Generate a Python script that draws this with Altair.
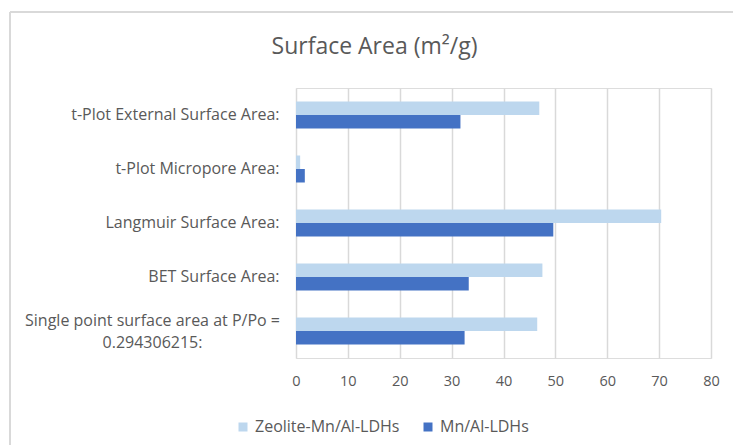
import altair as alt
import pandas as pd

# Surface area measurements (m²/g) for the two materials
categories = [
    "t-Plot External Surface Area:",
    "t-Plot Micropore Area:",
    "Langmuir Surface Area:",
    "BET Surface Area:",
    "Single point surface area at P/Po = 0.294306215:",
]
series = ["Zeolite-Mn/Al-LDHs", "Mn/Al-LDHs"]
zeolite_values = [46.9, 0.8, 70.4, 47.5, 46.5]
mnal_values = [31.7, 1.7, 49.6, 33.3, 32.5]
x_ticks = [0, 10, 20, 30, 40, 50, 60, 70, 80]
colors = ["#BDD7EE", "#4472C4"]

rows = []
for cat, z, m in zip(categories, zeolite_values, mnal_values):
    rows.append({"category": cat, "series": series[0], "value": z})
    rows.append({"category": cat, "series": series[1], "value": m})
df = pd.DataFrame(rows)

FONT = "Open Sans"
TEXT = "#595959"
GRID = "#D9D9D9"

LONG_LABEL = "indexof(datum.value, 'P/Po') >= 0"

bars = alt.Chart(df).mark_bar().encode(
    x=alt.X(
        "value:Q",
        scale=alt.Scale(domain=[0, 80], nice=False, zero=True),
        axis=alt.Axis(
            values=x_ticks,
            title=None,
            grid=True,
            gridColor=GRID,
            gridWidth=1.5,
            domain=False,
            ticks=False,
            labelFlush=False,
            labelPadding=16,
            labelFont=FONT,
            labelFontSize=14.5,
            labelColor=TEXT,
        ),
    ),
    y=alt.Y(
        "category:N",
        sort=categories,
        scale=alt.Scale(paddingInner=0.5, paddingOuter=0.25),
        axis=alt.Axis(
            title=None,
            domain=False,
            ticks=False,
            grid=False,
            labelExpr="split(replace(datum.label, '= ', '=|'), '|')",
            labelAlign={"condition": {"test": LONG_LABEL, "value": "center"}, "value": "right"},
            labelPadding={"condition": {"test": LONG_LABEL, "value": 144}, "value": 17},
            labelOffset={"condition": {"test": LONG_LABEL, "value": -10}, "value": 0},
            labelLimit=400,
            labelLineHeight=22,
            labelFont=FONT,
            labelFontSize=16,
            labelColor=TEXT,
        ),
    ),
    yOffset=alt.YOffset(
        "series:N", sort=series, scale=alt.Scale(paddingInner=0, paddingOuter=0)
    ),
    color=alt.Color(
        "series:N",
        sort=series,
        scale=alt.Scale(domain=series, range=colors),
        legend=alt.Legend(
            title=None,
            orient="none",
            legendX=-61,
            legendY=331,
            direction="horizontal",
            symbolType="square",
            symbolSize=81,
            symbolStrokeWidth=0,
            labelFont=FONT,
            labelFontSize=16,
            labelColor=TEXT,
            labelOffset=4,
            columnPadding=20,
        ),
    ),
)

# light grey outer chart frame (left and top edges)
frame_src = pd.DataFrame({"k": [0]})
frame_left = alt.Chart(frame_src).mark_rule(color=GRID, strokeWidth=2).encode(
    x=alt.value(-286), y=alt.value(-76), y2=alt.value(370)
)
frame_top = alt.Chart(frame_src).mark_rule(color=GRID, strokeWidth=2).encode(
    x=alt.value(-286), x2=alt.value(445), y=alt.value(-76)
)

chart = (
    alt.layer(frame_left, frame_top, bars)
    .properties(
        width=415,
        height=270,
        autosize=alt.AutoSizeParams(type="none"),
        padding={"left": 296, "top": 88, "right": 22, "bottom": 87},
        title=alt.TitleParams(
            "Surface Area (m²/g)",
            font=FONT,
            fontSize=23,
            fontWeight="normal",
            color=TEXT,
            frame="group",
            anchor="middle",
            baseline="middle",
            dx=-129,
            offset=-59,
        ),
    )
    .configure_view(stroke=None)
    .configure(background="white")
)

chart.save("out.html", embed_options={"renderer": "svg", "actions": False})
